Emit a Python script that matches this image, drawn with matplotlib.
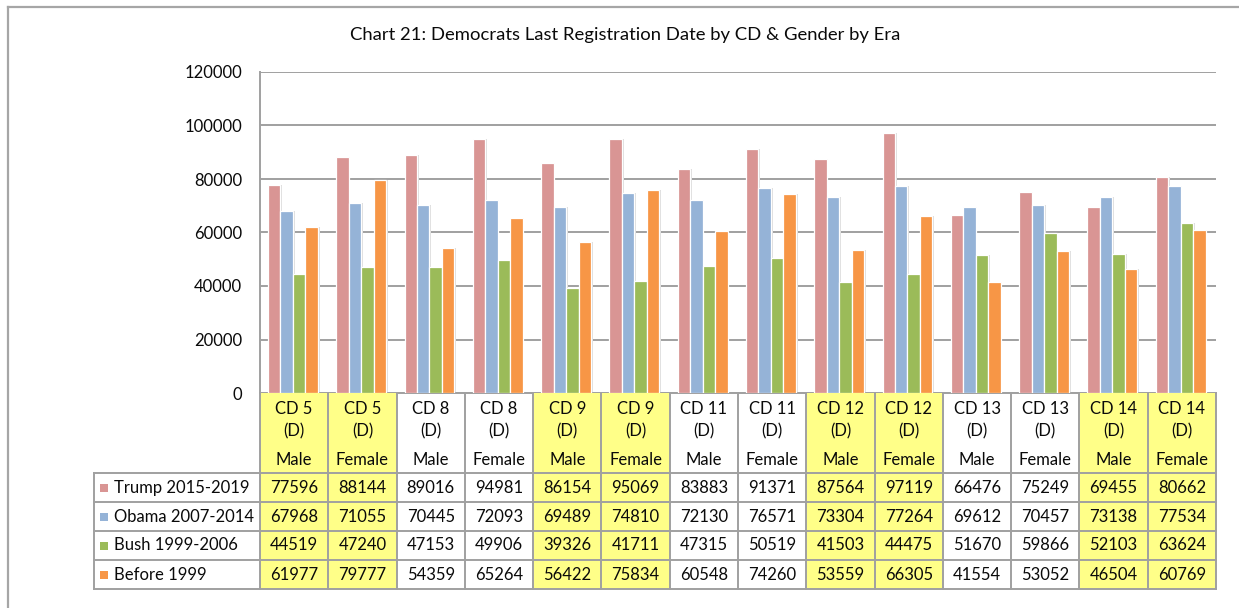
import matplotlib.pyplot as plt
import numpy as np
from matplotlib.patches import Rectangle
from matplotlib.lines import Line2D

plt.rcParams['font.family'] = ['Lato', 'DejaVu Sans']

categories = ['CD 5', 'CD 5', 'CD 8', 'CD 8', 'CD 9', 'CD 9', 'CD 11', 'CD 11',
              'CD 12', 'CD 12', 'CD 13', 'CD 13', 'CD 14', 'CD 14']
genders = ['Male', 'Female'] * 7
party = '(D)'
trump = [77596, 88144, 89016, 94981, 86154, 95069, 83883, 91371, 87564, 97119, 66476, 75249, 69455, 80662]
obama = [67968, 71055, 70445, 72093, 69489, 74810, 72130, 76571, 73304, 77264, 69612, 70457, 73138, 77534]
bush = [44519, 47240, 47153, 49906, 39326, 41711, 47315, 50519, 41503, 44475, 51670, 59866, 52103, 63624]
before = [61977, 79777, 54359, 65264, 56422, 75834, 60548, 74260, 53559, 66305, 41554, 53052, 46504, 60769]
series_names = ['Trump 2015-2019', 'Obama 2007-2014', 'Bush 1999-2006', 'Before 1999']
highlighted = ['CD 5', 'CD 9', 'CD 12', 'CD 14']
title = 'Chart 21: Democrats Last Registration Date by CD & Gender by Era'

series = [trump, obama, bush, before]
colors = ['#D99594', '#95B3D7', '#9BBB59', '#F79646']
yellow = '#FFFF88'
line_grey = '#A0A0A0'
text_col = '#0A0A0A'
fs = 12

W, H = 1239, 608


def fx(px):
    return px / W


def fy(py):
    return 1 - py / H


fig = plt.figure(figsize=(W / 100, H / 100), dpi=100)

# outer chart border (top and left only visible)
fig.add_artist(Line2D([fx(8), 1], [fy(7), fy(7)], color='#A6A6A6', lw=1.6))
fig.add_artist(Line2D([fx(8), fx(8)], [fy(7), 0], color='#A6A6A6', lw=1.6))

fig.text(fx(625), fy(35), title, ha='center', va='center', fontsize=13.3, color=text_col)

# bar plot
n = len(categories)
ax = fig.add_axes([fx(260), fy(393), fx(1216) - fx(260), fy(72) - fy(393)])
x = np.arange(n)
w = 0.1825
start = 0.117
for i, (vals, c) in enumerate(zip(series, colors)):
    # light shadow to mimic Excel style
    ax.bar(x + start + w * (i + 0.5) + 0.025, vals, width=w, color='#DDDDDD',
           linewidth=0, zorder=2)
    ax.bar(x + start + w * (i + 0.5), vals, width=w, color=c,
           edgecolor='white', linewidth=0.9, zorder=3)

ax.set_xlim(0, n)
ax.set_ylim(0, 120000)
ax.set_yticks(range(0, 120001, 20000))
ax.set_yticklabels([str(v) for v in range(0, 120001, 20000)], fontsize=fs, color=text_col)
ax.tick_params(axis='y', length=0, pad=13)
ax.set_xticks([])
ax.yaxis.grid(True, color=line_grey, lw=1.4)
ax.set_axisbelow(True)
for s in ['top', 'right']:
    ax.spines[s].set_visible(False)
for s in ['left', 'bottom']:
    ax.spines[s].set_color(line_grey)
    ax.spines[s].set_linewidth(1.4)

# data table below the plot
col_w = (1216 - 260) / n
leg_cols = (260 - 94) / col_w
tab = fig.add_axes([fx(94), fy(589), fx(1216) - fx(94), fy(393) - fy(589)])
tab.set_xlim(-leg_cols, n)
tab.set_ylim(196, 0)
tab.axis('off')

row_edges = [80, 109, 138, 167, 196]
for j, cat in enumerate(categories):
    if cat in highlighted:
        tab.add_patch(Rectangle((j, 0), 1, 198, fc=yellow, ec='none', zorder=0))

for j in range(n + 1):
    tab.plot([j, j], [0, 196], color=line_grey, lw=1.4, zorder=2, clip_on=False)
tab.plot([-leg_cols, -leg_cols], [80, 196], color=line_grey, lw=1.4, zorder=2, clip_on=False)
for y in row_edges:
    tab.plot([-leg_cols, n], [y, y], color=line_grey, lw=1.4, zorder=2, clip_on=False)

txt = dict(ha='center', va='center', fontsize=fs, color=text_col, zorder=3)
for j in range(n):
    tab.text(j + 0.5, 16, categories[j], **txt)
    tab.text(j + 0.5, 38, party, **txt)
    tab.text(j + 0.5, 67, genders[j], **txt)
    for r, vals in enumerate(series):
        yc = (row_edges[r] + row_edges[r + 1]) / 2
        tab.text(j + 0.5, yc, str(vals[j]), **txt)

for r, (name, c) in enumerate(zip(series_names, colors)):
    yc = (row_edges[r] + row_edges[r + 1]) / 2
    tab.add_patch(Rectangle((-leg_cols + 6 / col_w, yc - 4), 8 / col_w, 8, fc=c, ec='none', zorder=3))
    tab.text(-leg_cols + 20 / col_w, yc, name, ha='left', va='center', fontsize=fs,
             color=text_col, zorder=3)

fig.savefig('out.png', dpi=100)
